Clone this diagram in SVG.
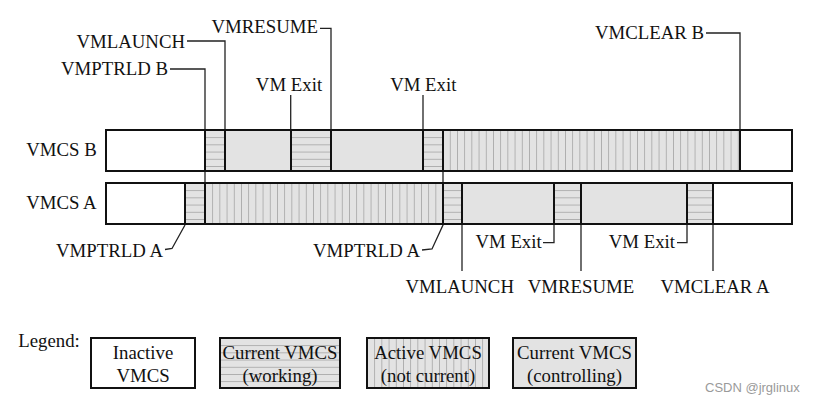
<svg xmlns="http://www.w3.org/2000/svg" width="814" height="405" viewBox="0 0 814 405">
<style>
  .t { font-family: "Liberation Serif", "Times New Roman", serif; font-size: 18.8px; fill: #111; }
  .m { text-anchor: middle; }
  .e { text-anchor: end; }
  .gray { fill: #e3e3e3; }
  .white { fill: #ffffff; }
  .div { stroke: #111; stroke-width: 2; fill: none; }
  .outline { stroke: #111; stroke-width: 2; fill: none; }
  .lead { stroke: #222; stroke-width: 1.3; fill: none; }
  .wm { font-family: "Liberation Sans", Arial, sans-serif; font-size: 13px; fill: #9a9a9a; }
</style>
<defs>
  <pattern id="hB" patternUnits="userSpaceOnUse" x="0" y="130" width="10" height="7.2">
    <rect width="10" height="7.2" fill="#e3e3e3"/>
    <line x1="0" y1="0" x2="10" y2="0" stroke="#9c9c9c" stroke-width="1.4"/>
  </pattern>
  <pattern id="hA" patternUnits="userSpaceOnUse" x="0" y="183" width="10" height="7.2">
    <rect width="10" height="7.2" fill="#e3e3e3"/>
    <line x1="0" y1="0" x2="10" y2="0" stroke="#9c9c9c" stroke-width="1.4"/>
  </pattern>
  <pattern id="hL" patternUnits="userSpaceOnUse" x="0" y="338" width="10" height="7.2">
    <rect width="10" height="7.2" fill="#e3e3e3"/>
    <line x1="0" y1="0" x2="10" y2="0" stroke="#9c9c9c" stroke-width="1.4"/>
  </pattern>
  <pattern id="v" patternUnits="userSpaceOnUse" x="205" y="0" width="7.2" height="10">
    <rect width="7.2" height="10" fill="#e3e3e3"/>
    <line x1="0" y1="0" x2="0" y2="10" stroke="#9c9c9c" stroke-width="1.4"/>
  </pattern>
  <pattern id="vL" patternUnits="userSpaceOnUse" x="367" y="0" width="7.2" height="10">
    <rect width="7.2" height="10" fill="#e3e3e3"/>
    <line x1="0" y1="0" x2="0" y2="10" stroke="#9c9c9c" stroke-width="1.4"/>
  </pattern>
</defs>
<rect width="814" height="405" fill="#ffffff"/>

<g id="connectors">
  <path class="lead" d="M187,41 H225 V130"/>
  <path class="lead" d="M320,28.3 H331 V130"/>
  <path class="lead" d="M170,69 H205 V183"/>
  <path class="lead" d="M290.7,95 V130"/>
  <path class="lead" d="M423,95 V130"/>
  <path class="lead" d="M706,33 H740 V130"/>
  <path class="lead" d="M165,249.5 L172,248.5 L185,225"/>
  <path class="lead" d="M422,250 L432,249 L443,225 V171"/>
  <path class="lead" d="M543,242.7 H554 V224"/>
  <path class="lead" d="M677,242.7 H687 V224"/>
  <path class="lead" d="M462,224 V271"/>
  <path class="lead" d="M581,224 V271"/>
  <path class="lead" d="M713,224 V271"/>
</g>

<g id="vmcs-b">
  <rect class="white" x="106" y="130" width="99" height="41"/>
  <rect fill="url(#hB)" x="205" y="130" width="20" height="41"/>
  <rect class="gray" x="225" y="130" width="66" height="41"/>
  <rect fill="url(#hB)" x="291" y="130" width="40" height="41"/>
  <rect class="gray" x="331" y="130" width="92" height="41"/>
  <rect fill="url(#hB)" x="423" y="130" width="20" height="41"/>
  <rect fill="url(#v)" x="443" y="130" width="297" height="41"/>
  <rect class="white" x="740" y="130" width="52" height="41"/>
  <path class="div" d="M205,130 V171 M225,130 V171 M291,130 V171 M331,130 V171 M423,130 V171 M443,130 V171 M740,130 V171"/>
  <rect class="outline" x="106" y="130" width="686" height="41"/>
  <text class="t e" x="96.7" y="156">VMCS B</text>
</g>

<g id="vmcs-a">
  <rect class="white" x="106" y="183" width="79" height="41"/>
  <rect fill="url(#hA)" x="185" y="183" width="20" height="41"/>
  <rect fill="url(#v)" x="205" y="183" width="238" height="41"/>
  <rect fill="url(#hA)" x="443" y="183" width="19" height="41"/>
  <rect class="gray" x="462" y="183" width="92" height="41"/>
  <rect fill="url(#hA)" x="554" y="183" width="27" height="41"/>
  <rect class="gray" x="581" y="183" width="106" height="41"/>
  <rect fill="url(#hA)" x="687" y="183" width="26" height="41"/>
  <rect class="white" x="713" y="183" width="79" height="41"/>
  <path class="div" d="M185,183 V224 M205,183 V224 M443,183 V224 M462,183 V224 M554,183 V224 M581,183 V224 M687,183 V224 M713,183 V224"/>
  <rect class="outline" x="106" y="183" width="686" height="41"/>
  <text class="t e" x="96.7" y="209.3">VMCS A</text>
</g>

<g id="label-vmlaunch-b"><text class="t e" x="185" y="47.7">VMLAUNCH</text></g>
<g id="label-vmresume-b"><text class="t e" x="318" y="33.3">VMRESUME</text></g>
<g id="label-vmptrld-b"><text class="t e" x="168" y="75">VMPTRLD B</text></g>
<g id="label-vmexit-b1"><text class="t m" x="289" y="90.7">VM Exit</text></g>
<g id="label-vmexit-b2"><text class="t m" x="423.3" y="90.7">VM Exit</text></g>
<g id="label-vmclear-b"><text class="t e" x="704" y="39.3">VMCLEAR B</text></g>
<g id="label-vmptrld-a1"><text class="t e" x="163" y="256.7">VMPTRLD A</text></g>
<g id="label-vmptrld-a2"><text class="t e" x="420" y="256.7">VMPTRLD A</text></g>
<g id="label-vmexit-a1"><text class="t e" x="541.7" y="248.3">VM Exit</text></g>
<g id="label-vmexit-a2"><text class="t e" x="675" y="248.3">VM Exit</text></g>
<g id="label-vmlaunch-a"><text class="t m" x="459.7" y="292.7">VMLAUNCH</text></g>
<g id="label-vmresume-a"><text class="t m" x="581" y="292.7">VMRESUME</text></g>
<g id="label-vmclear-a"><text class="t m" x="715" y="292.7">VMCLEAR A</text></g>

<g id="legend">
  <text class="t" x="18.3" y="347">Legend:</text>
  <g id="legend-inactive">
    <rect x="91" y="338" width="104" height="50" fill="#ffffff" class="outline"/>
    <text class="t m" x="143" y="359">Inactive</text>
    <text class="t m" x="143" y="381.5">VMCS</text>
  </g>
  <g id="legend-working">
    <rect x="220" y="338" width="120" height="50" fill="url(#hL)"/>
    <rect x="220" y="338" width="120" height="50" class="outline"/>
    <text class="t m" x="280" y="359">Current VMCS</text>
    <text class="t m" x="280" y="381.5">(working)</text>
  </g>
  <g id="legend-active">
    <rect x="367" y="338" width="122" height="50" fill="url(#vL)"/>
    <rect x="367" y="338" width="122" height="50" class="outline"/>
    <text class="t m" x="428" y="359">Active VMCS</text>
    <text class="t m" x="428" y="381.5">(not current)</text>
  </g>
  <g id="legend-controlling">
    <rect x="513" y="338" width="123" height="50" class="gray"/>
    <rect x="513" y="338" width="123" height="50" class="outline"/>
    <text class="t m" x="574.5" y="359">Current VMCS</text>
    <text class="t m" x="574.5" y="381.5">(controlling)</text>
  </g>
</g>

<text class="wm" x="705" y="391.7">CSDN @jrglinux</text>
</svg>
